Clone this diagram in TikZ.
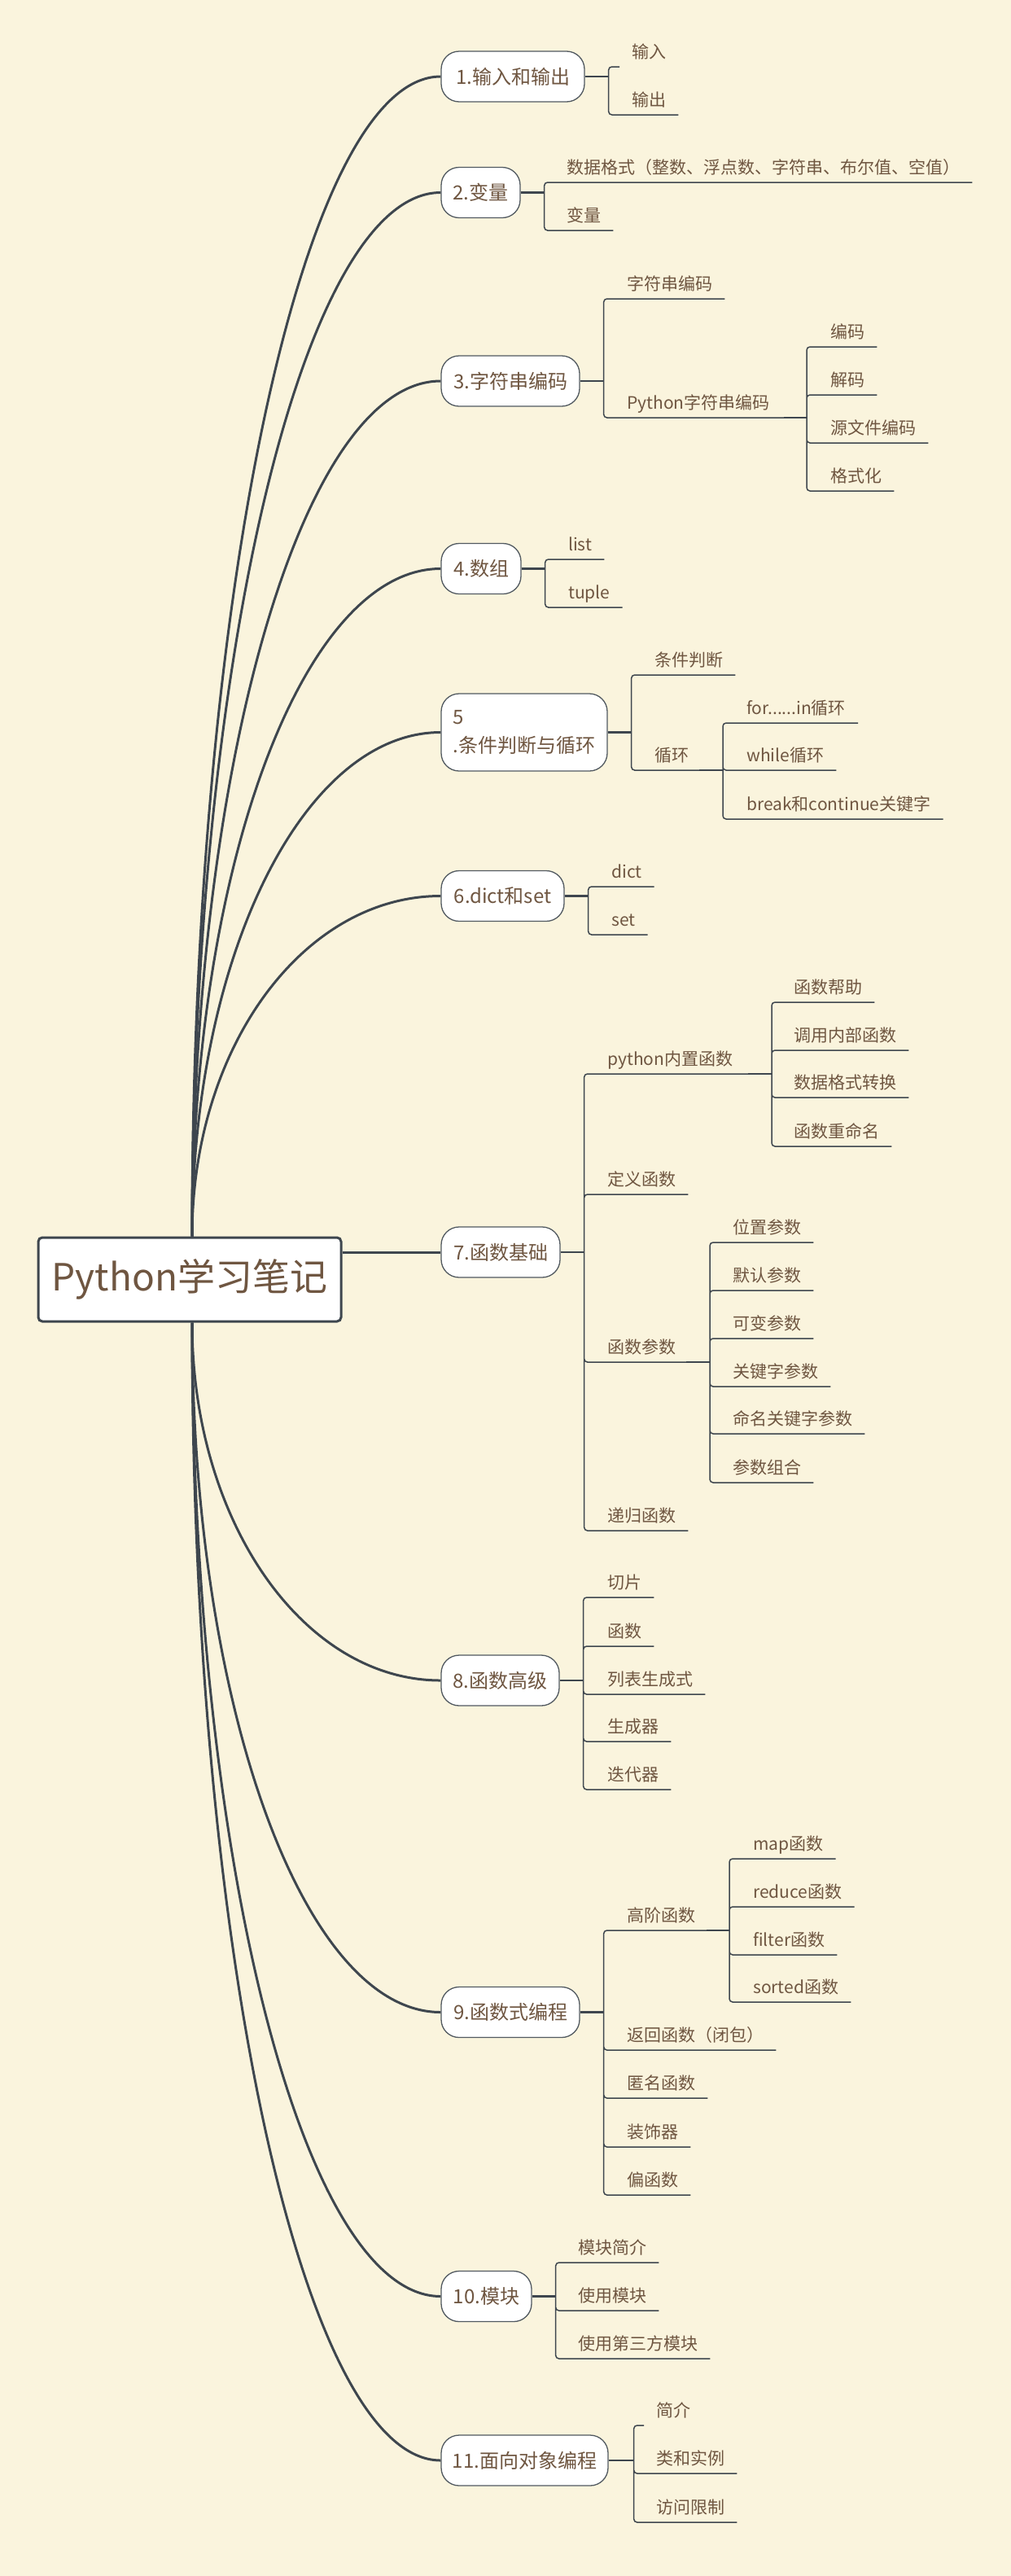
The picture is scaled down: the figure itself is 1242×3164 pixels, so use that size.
\documentclass[tikz,border=0pt]{standalone}
\usepackage{fontspec}
\setmainfont{Noto Sans CJK SC}

\definecolor{paper}{HTML}{FAF4DD}
\definecolor{ink}{HTML}{6F5641}
\definecolor{wire}{HTML}{3E464E}

\begin{document}
\begin{tikzpicture}[x=1pt, y=-1pt,
    rootbox/.style={draw=wire, line width=3, fill=white, rounded corners=5, minimum width=372, minimum height=103, inner sep=0, text=ink, font=\fontsize{46}{50}\selectfont},
    topic/.style={draw=wire!90, line width=1.3, fill=white, rounded corners=22, minimum height=62, inner sep=0, text=ink, font=\fontsize{24}{35}\selectfont},
    leaf/.style={anchor=south west, inner xsep=0, inner ysep=5, text height=16, text depth=5, text=ink, font=\fontsize{21}{25}\selectfont},
    trunk/.style={draw=wire, line width=3},
    stub/.style={draw=wire, line width=2.4},
    twig/.style={draw=wire, line width=1.5, rounded corners=4}]

    \fill[paper] (0,0) rectangle (1242,3164);
    \useasboundingbox (0,0) rectangle (1242,3164);

    % Draw main topics
    \node[rootbox] (root) at (233,1571.5) {Python学习笔记};
    \node[topic, minimum width=176] (io) at (630,94) {1.输入和输出};
    \node[topic, minimum width=97] (var) at (590.5,236.5) {2.变量};
    \node[topic, minimum width=170] (str) at (627,468) {3.字符串编码};
    \node[topic, minimum width=98] (arr) at (591,698.5) {4.数组};
    \node[topic, minimum width=204, minimum height=95, align=left] (cond) at (644,899.5) {5\\.条件判断与循环};
    \node[topic, minimum width=151] (dict) at (617.5,1100.5) {6.dict和set};
    \node[topic, minimum width=146] (fbase) at (615,1538) {7.函数基础};
    \node[topic, minimum width=145] (fadv) at (614.5,2064) {8.函数高级};
    \node[topic, minimum width=170] (fp) at (627,2471.5) {9.函数式编程};
    \node[topic, minimum width=111] (mod) at (597.5,2820.5) {10.模块};
    \node[topic, minimum width=205] (oop) at (644.5,3022) {11.面向对象编程};

    % Draw curves from the root
    \draw[trunk] ([xshift=3]root.north) .. controls +(0,-788) and +(-169,0) .. (io.west);
    \draw[trunk] ([xshift=3]root.north) .. controls +(0,-709) and +(-169,0) .. (var.west);
    \draw[trunk] ([xshift=3]root.north) .. controls +(0,-581) and +(-169,0) .. (str.west);
    \draw[trunk] ([xshift=3]root.north) .. controls +(0,-454) and +(-169,0) .. (arr.west);
    \draw[trunk] ([xshift=3]root.north) .. controls +(0,-343) and +(-169,0) .. (cond.west);
    \draw[trunk] ([xshift=3]root.north) .. controls +(0,-232) and +(-169,0) .. (dict.west);
    \draw[trunk] (root.east |- fbase.west) -- (fbase.west);
    \draw[trunk] ([xshift=3]root.south) .. controls +(0,244) and +(-169,0) .. (fadv.west);
    \draw[trunk] ([xshift=3]root.south) .. controls +(0,469) and +(-169,0) .. (fp.west);
    \draw[trunk] ([xshift=3]root.south) .. controls +(0,661) and +(-169,0) .. (mod.west);
    \draw[trunk] ([xshift=3]root.south) .. controls +(0,773) and +(-169,0) .. (oop.west);

    % 1
    \coordinate (jio) at ([xshift=29]io.east);
    \node[leaf] (input) at (776,82) {输入};
    \node[leaf] (output) at (776,141) {输出};
    \draw[stub] (io.east) -- (jio);
    \draw[twig] (jio) |- ([xshift=-15]input.south west) (jio) |- ([xshift=15]output.south east);

    % 2
    \coordinate (jvar) at ([xshift=29]var.east);
    \node[leaf] (vtype) at (696,224) {数据格式（整数、浮点数、字符串、布尔值、空值）};
    \node[leaf] (vname) at (696,283) {变量};
    \draw[stub] (var.east) -- (jvar);
    \draw[twig] (jvar) |- ([xshift=15]vtype.south east) (jvar) |- ([xshift=15]vname.south east);

    % 3
    \coordinate (jstr) at ([xshift=29]str.east);
    \coordinate (jspy) at (991,513);
    \node[leaf] (scode) at (770,367) {字符串编码};
    \node[leaf] (spy) at (770,513) {Python字符串编码};
    \node[leaf] (senc) at (1020,426) {编码};
    \node[leaf] (sdec) at (1020,485) {解码};
    \node[leaf] (ssrc) at (1020,544) {源文件编码};
    \node[leaf] (sfmt) at (1020,603) {格式化};
    \draw[stub] (str.east) -- (jstr);
    \draw[twig] (jstr) |- ([xshift=15]scode.south east) (jstr) |- (jspy);
    \draw[stub] ([xshift=-28]jspy) -- (jspy);
    \draw[twig] (jspy) |- ([xshift=15]senc.south east) (jspy) |- ([xshift=15]sdec.south east)
        (jspy) |- ([xshift=15]ssrc.south east) (jspy) |- ([xshift=15]sfmt.south east);

    % 4
    \coordinate (jarr) at ([xshift=29]arr.east);
    \node[leaf] (alist) at (698,687) {list};
    \node[leaf] (atuple) at (698,746) {tuple};
    \draw[stub] (arr.east) -- (jarr);
    \draw[twig] (jarr) |- ([xshift=15]alist.south east) (jarr) |- ([xshift=15]atuple.south east);

    % 5
    \coordinate (jcond) at ([xshift=29]cond.east);
    \coordinate (jloop) at (888,946);
    \node[leaf] (cif) at (804,829) {条件判断};
    \node[leaf] (cloop) at (804,946) {循环};
    \node[leaf] (cfor) at (917,888) {for......in循环};
    \node[leaf] (cwhile) at (917,946) {while循环};
    \node[leaf] (cbreak) at (917,1006) {break和continue关键字};
    \draw[stub] (cond.east) -- (jcond);
    \draw[twig] (jcond) |- ([xshift=15]cif.south east) (jcond) |- (jloop);
    \draw[stub] ([xshift=-29]jloop) -- (jloop);
    \draw[twig] (jloop) |- ([xshift=15]cfor.south east) (jloop) |- ([xshift=15]cwhile.south east)
        (jloop) |- ([xshift=15]cbreak.south east);

    % 6
    \coordinate (jdict) at ([xshift=29]dict.east);
    \node[leaf] (ddict) at (751,1089) {dict};
    \node[leaf] (dset) at (751,1148) {set};
    \draw[stub] (dict.east) -- (jdict);
    \draw[twig] (jdict) |- ([xshift=15]ddict.south east) (jdict) |- ([xshift=15]dset.south east);

    % 7
    \coordinate (jfbase) at ([xshift=29]fbase.east);
    \coordinate (jbuilt) at (948,1319);
    \coordinate (jargs) at (872,1673);
    \node[leaf] (fbuilt) at (746,1319) {python内置函数};
    \node[leaf] (fhelp) at (975,1231) {函数帮助};
    \node[leaf] (fcall) at (975,1290) {调用内部函数};
    \node[leaf] (fconv) at (975,1348) {数据格式转换};
    \node[leaf] (frename) at (975,1408) {函数重命名};
    \node[leaf] (fdef) at (746,1467) {定义函数};
    \node[leaf] (fargs) at (746,1673) {函数参数};
    \node[leaf] (apos) at (900,1526) {位置参数};
    \node[leaf] (adefault) at (900,1585) {默认参数};
    \node[leaf] (avar) at (900,1644) {可变参数};
    \node[leaf] (akw) at (900,1703) {关键字参数};
    \node[leaf] (anamed) at (900,1761) {命名关键字参数};
    \node[leaf] (acomb) at (900,1821) {参数组合};
    \node[leaf] (frec) at (746,1880) {递归函数};
    \draw[stub] (fbase.east) -- (jfbase);
    \draw[twig] (jfbase) |- (jbuilt) (jfbase) |- ([xshift=15]fdef.south east)
        (jfbase) |- (jargs) (jfbase) |- ([xshift=15]frec.south east);
    \draw[stub] ([xshift=-29]jbuilt) -- (jbuilt);
    \draw[twig] (jbuilt) |- ([xshift=15]fhelp.south east) (jbuilt) |- ([xshift=15]fcall.south east)
        (jbuilt) |- ([xshift=15]fconv.south east) (jbuilt) |- ([xshift=15]frename.south east);
    \draw[stub] ([xshift=-29]jargs) -- (jargs);
    \draw[twig] (jargs) |- ([xshift=15]apos.south east) (jargs) |- ([xshift=15]adefault.south east)
        (jargs) |- ([xshift=15]avar.south east) (jargs) |- ([xshift=15]akw.south east)
        (jargs) |- ([xshift=15]anamed.south east) (jargs) |- ([xshift=15]acomb.south east);

    % 8
    \coordinate (jfadv) at ([xshift=29]fadv.east);
    \node[leaf] (slice) at (746,1962) {切片};
    \node[leaf] (func) at (746,2022) {函数};
    \node[leaf] (lcomp) at (746,2081) {列表生成式};
    \node[leaf] (gen) at (746,2139) {生成器};
    \node[leaf] (iter) at (746,2198) {迭代器};
    \draw[stub] (fadv.east) -- (jfadv);
    \draw[twig] (jfadv) |- ([xshift=15]slice.south east) (jfadv) |- ([xshift=15]func.south east)
        (jfadv) |- ([xshift=15]lcomp.south east) (jfadv) |- ([xshift=15]gen.south east)
        (jfadv) |- ([xshift=15]iter.south east);

    % 9
    \coordinate (jfp) at ([xshift=29]fp.east);
    \coordinate (jhof) at (896,2371);
    \node[leaf] (hof) at (770,2371) {高阶函数};
    \node[leaf] (hmap) at (925,2283) {map函数};
    \node[leaf] (hreduce) at (925,2342) {reduce函数};
    \node[leaf] (hfilter) at (925,2401) {filter函数};
    \node[leaf] (hsorted) at (925,2459) {sorted函数};
    \node[leaf] (closure) at (770,2518) {返回函数（闭包）};
    \node[leaf] (lambda) at (770,2577) {匿名函数};
    \node[leaf] (deco) at (770,2637) {装饰器};
    \node[leaf] (partial) at (770,2696) {偏函数};
    \draw[stub] (fp.east) -- (jfp);
    \draw[twig] (jfp) |- (jhof) (jfp) |- ([xshift=15]closure.south east)
        (jfp) |- ([xshift=15]lambda.south east) (jfp) |- ([xshift=15]deco.south east)
        (jfp) |- ([xshift=15]partial.south east);
    \draw[stub] ([xshift=-28]jhof) -- (jhof);
    \draw[twig] (jhof) |- ([xshift=15]hmap.south east) (jhof) |- ([xshift=15]hreduce.south east)
        (jhof) |- ([xshift=15]hfilter.south east) (jhof) |- ([xshift=15]hsorted.south east);

    % 10
    \coordinate (jmod) at ([xshift=29]mod.east);
    \node[leaf] (mintro) at (710,2779) {模块简介};
    \node[leaf] (muse) at (710,2838) {使用模块};
    \node[leaf] (mthird) at (710,2897) {使用第三方模块};
    \draw[stub] (mod.east) -- (jmod);
    \draw[twig] (jmod) |- ([xshift=15]mintro.south east) (jmod) |- ([xshift=15]muse.south east)
        (jmod) |- ([xshift=15]mthird.south east);

    % 11
    \coordinate (joop) at ([xshift=31]oop.east);
    \node[leaf] (ointro) at (806,2979) {简介};
    \node[leaf] (oclass) at (806,3038) {类和实例};
    \node[leaf] (oaccess) at (806,3098) {访问限制};
    \draw[stub] (oop.east) -- (joop);
    \draw[twig] (joop) |- ([xshift=-15]ointro.south west) (joop) |- ([xshift=15]oclass.south east)
        (joop) |- ([xshift=15]oaccess.south east);
\end{tikzpicture}
\end{document}
